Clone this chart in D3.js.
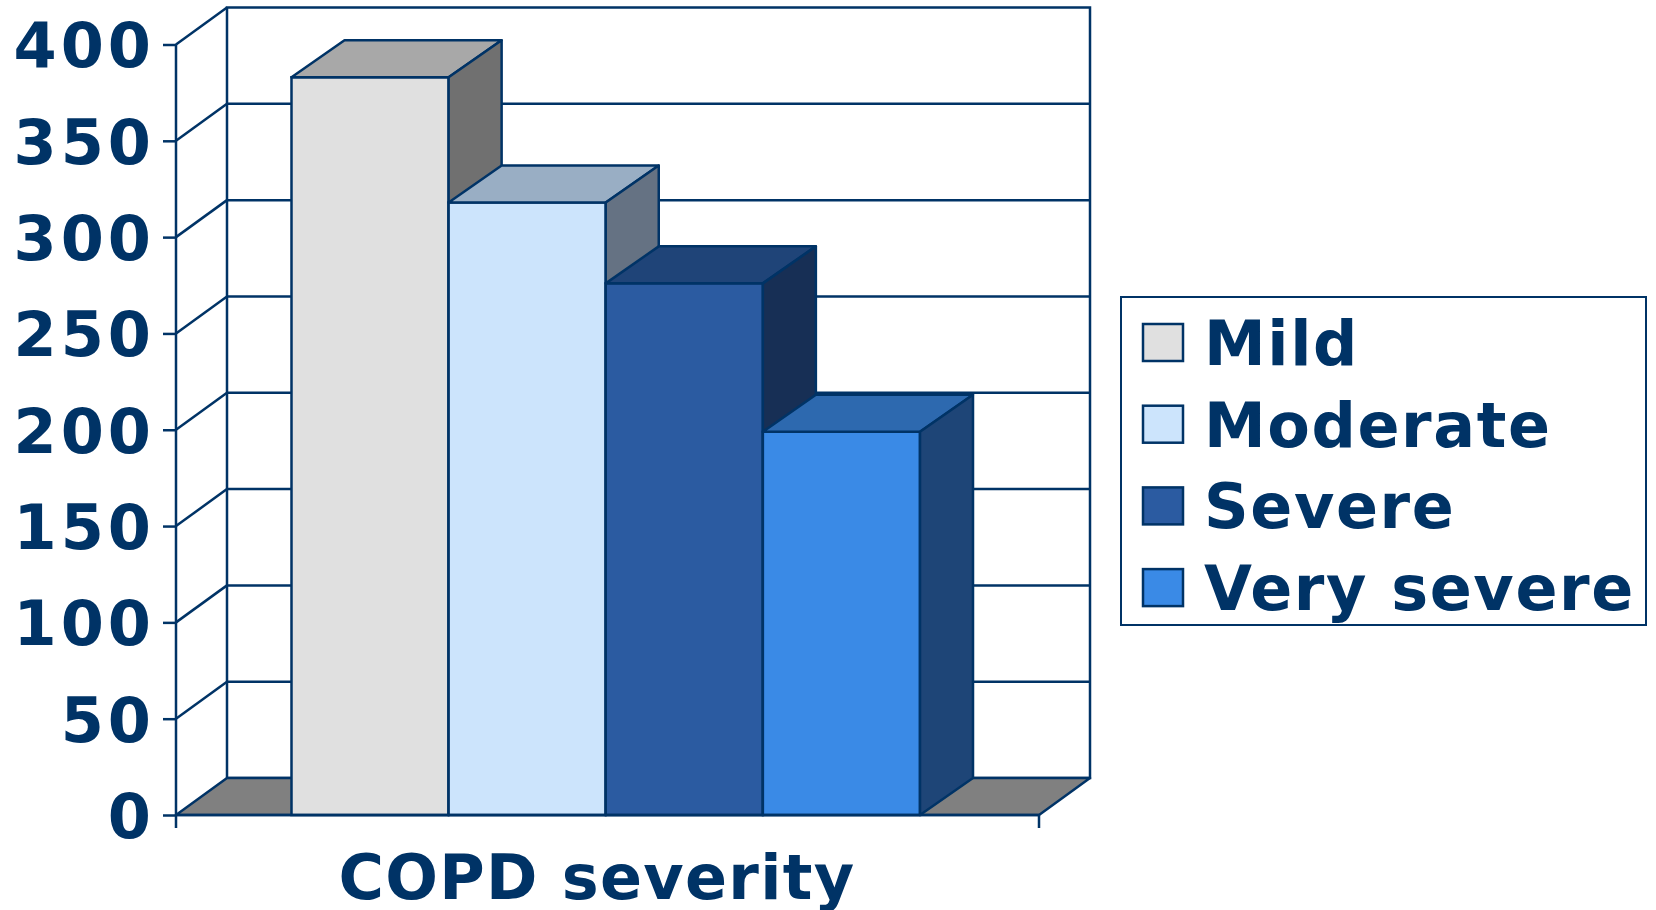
<!DOCTYPE html>
<html>
<head>
<meta charset="utf-8">
<script src="https://cdn.jsdelivr.net/npm/d3@7"></script>
<style>
  html, body { margin: 0; padding: 0; background: #ffffff; }
  svg { display: block; }
  text { font-family: "DejaVu Sans", Verdana, sans-serif; font-weight: bold; fill: #003366; }
</style>
</head>
<body>
<svg id="chart" width="1656" height="910"></svg>
<script>
// Patients by COPD severity stage
const series = ["Mild", "Moderate", "Severe", "Very severe"];
const values = [383, 318, 276, 199];
const yTicks = [0, 50, 100, 150, 200, 250, 300, 350, 400];
const axisTitle = "COPD severity";

const frontColors = ["#e0e0e0", "#cce4fc", "#2b5ba1", "#3a8ae6"];
const topColors   = ["#a8a8a8", "#99aec4", "#1f4478", "#2d69af"];
const sideColors  = ["#707070", "#657283", "#172f55", "#1e4577"];

const ink = "#003366";
const lw = 2.5;

const svg = d3.select("#chart");

// plot frame: front plane and depth offset of the walls / boxes
const frontLeft = 176, frontRight = 1039;
const wallDx = 51, wallDy = 37;
const barDx = 53, barDy = 37;

const y = d3.scaleLinear().domain([0, 400]).range([815, 44.5]);
const x = d3.scaleBand().domain(series).range([291.5, 920]).padding(0);

const g = svg.append("g");

// back wall
g.append("rect")
  .attr("x", frontLeft + wallDx).attr("y", y(400) - wallDy)
  .attr("width", frontRight - frontLeft).attr("height", y(0) - y(400))
  .attr("fill", "#ffffff").attr("stroke", ink).attr("stroke-width", lw);

// back-wall gridlines
g.selectAll("line.grid").data(yTicks.slice(1, -1)).join("line")
  .attr("class", "grid")
  .attr("x1", frontLeft + wallDx).attr("x2", frontRight + wallDx)
  .attr("y1", d => y(d) - wallDy).attr("y2", d => y(d) - wallDy)
  .attr("stroke", ink).attr("stroke-width", lw);

// side wall diagonals
g.selectAll("line.side").data(yTicks.slice(1)).join("line")
  .attr("class", "side")
  .attr("x1", frontLeft).attr("y1", d => y(d))
  .attr("x2", frontLeft + wallDx).attr("y2", d => y(d) - wallDy)
  .attr("stroke", ink).attr("stroke-width", lw);

// floor
g.append("polygon")
  .attr("points", [
    [frontLeft, y(0)], [frontRight, y(0)],
    [frontRight + wallDx, y(0) - wallDy], [frontLeft + wallDx, y(0) - wallDy]
  ].map(p => p.join(",")).join(" "))
  .attr("fill", "#808080").attr("stroke", ink).attr("stroke-width", lw)
  .attr("stroke-linejoin", "round");

// 3D columns, drawn left to right so each one overlaps its neighbour's side
const bars = g.selectAll("g.bar").data(series.map((s, i) => ({ s, v: values[i], i })))
  .join("g").attr("class", "bar");

bars.append("rect")
  .attr("x", d => x(d.s)).attr("y", d => y(d.v))
  .attr("width", x.bandwidth()).attr("height", d => y(0) - y(d.v))
  .attr("fill", d => frontColors[d.i]).attr("stroke", ink).attr("stroke-width", lw);

bars.append("polygon")
  .attr("points", d => {
    const x0 = x(d.s), x1 = x0 + x.bandwidth(), yt = y(d.v);
    return [[x0, yt], [x0 + barDx, yt - barDy], [x1 + barDx, yt - barDy], [x1, yt]]
      .map(p => p.join(",")).join(" ");
  })
  .attr("fill", d => topColors[d.i]).attr("stroke", ink).attr("stroke-width", lw)
  .attr("stroke-linejoin", "round");

bars.append("polygon")
  .attr("points", d => {
    const x1 = x(d.s) + x.bandwidth(), yt = y(d.v), yb = y(0);
    return [[x1, yt], [x1 + barDx, yt - barDy], [x1 + barDx, yb - barDy], [x1, yb]]
      .map(p => p.join(",")).join(" ");
  })
  .attr("fill", d => sideColors[d.i]).attr("stroke", ink).attr("stroke-width", lw)
  .attr("stroke-linejoin", "round");

// front axes
g.append("line")
  .attr("x1", frontLeft).attr("x2", frontLeft)
  .attr("y1", y(400)).attr("y2", y(0) + 13)
  .attr("stroke", ink).attr("stroke-width", lw);
g.append("line")
  .attr("x1", frontLeft).attr("x2", frontRight)
  .attr("y1", y(0)).attr("y2", y(0))
  .attr("stroke", ink).attr("stroke-width", lw);
g.append("line")
  .attr("x1", frontRight).attr("x2", frontRight)
  .attr("y1", y(0)).attr("y2", y(0) + 13)
  .attr("stroke", ink).attr("stroke-width", lw);

// y axis ticks and labels
const yAxis = d3.axisLeft(y).tickValues(yTicks).tickSize(13).tickPadding(8).tickFormat(d3.format("d"));
const ax = svg.append("g").attr("transform", `translate(${frontLeft},0)`).call(yAxis);
ax.select(".domain").remove();
ax.selectAll(".tick line").attr("stroke", ink).attr("stroke-width", lw);
ax.selectAll(".tick text")
  .attr("fill", ink)
  .style("font-size", "62px")
  .style("letter-spacing", "4px")
  .attr("dy", "0.36em")
  .attr("font-family", null);

// axis title
svg.append("text")
  .attr("x", 597).attr("y", 899)
  .attr("text-anchor", "middle")
  .style("font-size", "62px")
  .style("letter-spacing", "1.3px")
  .text(axisTitle);

// legend
const legend = svg.append("g");
legend.append("rect")
  .attr("x", 1121).attr("y", 297).attr("width", 525).attr("height", 328)
  .attr("fill", "#ffffff").attr("stroke", ink).attr("stroke-width", 2);
const items = legend.selectAll("g.item").data(series).join("g")
  .attr("class", "item")
  .attr("transform", (d, i) => `translate(1143, ${324 + i * 81.7})`);
items.append("rect")
  .attr("width", 40).attr("height", 37)
  .attr("fill", (d, i) => frontColors[i]).attr("stroke", ink).attr("stroke-width", 2.5);
items.append("text")
  .attr("x", 61).attr("y", 41)
  .style("font-size", "62px")
  .style("letter-spacing", "1.6px")
  .text(d => d);
</script>
</body>
</html>
